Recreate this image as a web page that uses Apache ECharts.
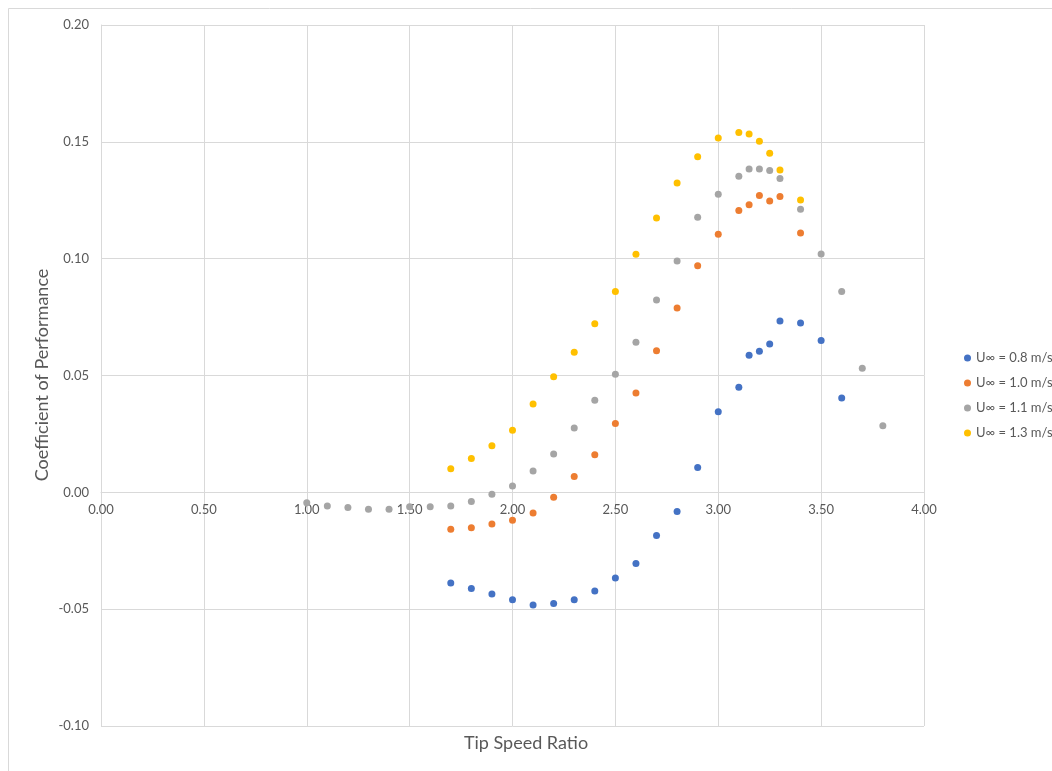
<!DOCTYPE html>
<html>
<head>
<meta charset="utf-8">
<title>Coefficient of Performance vs Tip Speed Ratio</title>
<script src="https://cdn.jsdelivr.net/npm/echarts@6/dist/echarts.min.js"></script>
<style>
  html, body { margin: 0; padding: 0; background: #ffffff; }
  #chart { width: 1052px; height: 771px; }
</style>
</head>
<body>
<div id="chart"></div>
<script>
// Free-stream velocity cases
const seriesNames = ['U\u221E = 0.8 m/s', 'U\u221E = 1.0 m/s', 'U\u221E = 1.1 m/s', 'U\u221E = 1.3 m/s'];
const seriesColors = ['#4472C4', '#ED7D31', '#A5A5A5', '#FFC000'];

// U = 0.8 m/s
const tsr08 = [1.7, 1.8, 1.9, 2.0, 2.1, 2.2, 2.3, 2.4, 2.5, 2.6, 2.7, 2.8, 2.9, 3.0, 3.1, 3.15, 3.2, 3.25, 3.3, 3.4, 3.5, 3.6];
const cp08  = [-0.0388, -0.0412, -0.0435, -0.0460, -0.0482, -0.0476, -0.0460, -0.0422, -0.0367, -0.0305, -0.0185, -0.0082,
               0.0106, 0.0345, 0.0450, 0.0587, 0.0604, 0.0635, 0.0733, 0.0725, 0.0650, 0.0404];

// U = 1.0 m/s
const tsr10 = [1.7, 1.8, 1.9, 2.0, 2.1, 2.2, 2.3, 2.4, 2.5, 2.6, 2.7, 2.8, 2.9, 3.0, 3.1, 3.15, 3.2, 3.25, 3.3, 3.4];
const cp10  = [-0.0158, -0.0152, -0.0136, -0.0119, -0.0088, -0.0021, 0.0068, 0.0161, 0.0295, 0.0425, 0.0606, 0.0789,
               0.0970, 0.1104, 0.1206, 0.1231, 0.1270, 0.1247, 0.1266, 0.1110];

// U = 1.1 m/s
const tsr11 = [1.0, 1.1, 1.2, 1.3, 1.4, 1.5, 1.6, 1.7, 1.8, 1.9, 2.0, 2.1, 2.2, 2.3, 2.4, 2.5, 2.6, 2.7, 2.8, 2.9, 3.0,
               3.1, 3.15, 3.2, 3.25, 3.3, 3.4, 3.5, 3.6, 3.7, 3.8];
const cp11  = [-0.0045, -0.0058, -0.0065, -0.0072, -0.0072, -0.0062, -0.0062, -0.0058, -0.0039, -0.0008, 0.0027, 0.0091,
               0.0164, 0.0275, 0.0394, 0.0505, 0.0642, 0.0823, 0.0990, 0.1177, 0.1276, 0.1353, 0.1384, 0.1384, 0.1377,
               0.1343, 0.1211, 0.1020, 0.0859, 0.0531, 0.0285];

// U = 1.3 m/s
const tsr13 = [1.7, 1.8, 1.9, 2.0, 2.1, 2.2, 2.3, 2.4, 2.5, 2.6, 2.7, 2.8, 2.9, 3.0, 3.1, 3.15, 3.2, 3.25, 3.3, 3.4];
const cp13  = [0.0101, 0.0145, 0.0199, 0.0266, 0.0378, 0.0495, 0.0600, 0.0722, 0.0859, 0.1019, 0.1174, 0.1324,
               0.1436, 0.1516, 0.1540, 0.1534, 0.1503, 0.1451, 0.1379, 0.1251];

const xTitle = 'Tip Speed Ratio';
const yTitle = 'Coefficient of Performance';

const allX = [tsr08, tsr10, tsr11, tsr13];
const allY = [cp08, cp10, cp11, cp13];

const FONT = 'Lato, "Open Sans", sans-serif';
const TEXT = '#595959';
const GRIDLINE = '#D9D9D9';

// Plot box and value ranges
const GRID = { left: 101, top: 25, right: 128, bottom: 45 };
const CHART_H = 771;
const Y_MIN = -0.1, Y_MAX = 0.2;
const plotH = CHART_H - GRID.top - GRID.bottom;
// Lift the horizontal axis from the bottom edge up to the y = 0 line
const zeroLift = plotH * (0 - Y_MIN) / (Y_MAX - Y_MIN);

const chart = echarts.init(document.getElementById('chart'), null, { renderer: 'canvas' });

const series = seriesNames.map((name, i) => ({
  name: name,
  type: 'scatter',
  symbol: 'circle',
  symbolSize: 7,
  itemStyle: { color: seriesColors[i], opacity: 1 },
  data: allX[i].map((x, k) => [x, allY[i][k]])
}));

chart.setOption({
  animation: false,
  backgroundColor: '#ffffff',
  grid: Object.assign({ containLabel: false }, GRID),
  xAxis: {
    type: 'value',
    min: 0, max: 4, interval: 0.5,
    position: 'bottom',
    offset: -zeroLift,
    axisLine: { show: true, onZero: false, lineStyle: { color: GRIDLINE, width: 1 } },
    axisTick: { show: false },
    axisLabel: {
      color: TEXT, fontFamily: FONT, fontSize: 13, margin: 11,
      formatter: v => v.toFixed(2)
    },
    splitLine: { show: true, lineStyle: { color: GRIDLINE, width: 1 } }
  },
  yAxis: {
    type: 'value',
    min: Y_MIN, max: Y_MAX, interval: 0.05,
    axisLine: { show: true, onZero: false, lineStyle: { color: GRIDLINE, width: 1 } },
    axisTick: { show: false },
    axisLabel: {
      color: TEXT, fontFamily: FONT, fontSize: 13, margin: 12,
      formatter: v => v.toFixed(2)
    },
    splitLine: { show: true, lineStyle: { color: GRIDLINE, width: 1 } }
  },
  legend: {
    orient: 'vertical',
    left: 959, top: 345,
    icon: 'circle',
    itemWidth: 7, itemHeight: 7,
    itemGap: 9,
    itemStyle: { opacity: 1 },
    textStyle: { color: TEXT, fontFamily: FONT, fontSize: 13, lineHeight: 16 },
    data: seriesNames
  },
  graphic: [
    {
      type: 'rect', silent: true, z: -1,
      shape: { x: 8.5, y: 8.5, width: 1100, height: 800 },
      style: { fill: 'none', stroke: GRIDLINE, lineWidth: 1 }
    },
    {
      type: 'text', left: 'center', top: 734,
      style: { text: xTitle, fill: TEXT, font: '18px ' + FONT }
    },
    {
      type: 'text', x: 33, y: 375, rotation: Math.PI / 2,
      style: { text: yTitle, fill: TEXT, font: '18px ' + FONT, align: 'center', verticalAlign: 'top' }
    }
  ],
  series: series
});
</script>
</body>
</html>
